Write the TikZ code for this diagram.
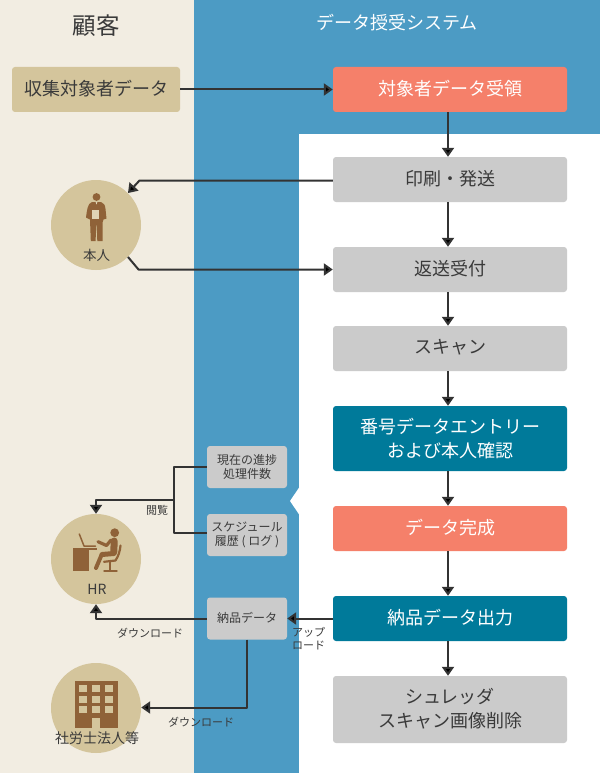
\documentclass[tikz,border=0pt]{standalone}
\usepackage{fontspec}
\setmainfont{Noto Sans CJK JP}
\usetikzlibrary{arrows.meta,calc}
\definecolor{beige}{HTML}{F2EDE2}
\definecolor{panel}{HTML}{4C9BC4}
\definecolor{tan}{HTML}{D4C59C}
\definecolor{brownc}{HTML}{8F6238}
\definecolor{salmon}{HTML}{F5806A}
\definecolor{tealc}{HTML}{007A9A}
\definecolor{grayc}{HTML}{CBCBCB}
\definecolor{ink}{HTML}{3A3A3A}
\definecolor{wire}{HTML}{333333}
\newcommand{\fs}[1]{\fontsize{#1}{#1}\selectfont}
\newcommand{\up}[1]{\raisebox{1pt}[\height][\depth]{#1}}
\tikzset{
  x=1pt,y=-1pt,
  box/.style={rounded corners=3pt,inner sep=0pt,align=center,text=ink,font=\fontsize{18}{24}\selectfont},
  big/.style={box,minimum width=234pt},
  graybox/.style={big,fill=grayc},
  salmonbox/.style={big,fill=salmon,text=white},
  tealbox/.style={big,fill=tealc,text=white},
  small/.style={box,fill=grayc,minimum width=80pt,minimum height=42pt,font=\fontsize{12}{14}\selectfont},
  circ/.style={circle,fill=tan,minimum size=90pt,inner sep=0pt},
  lab/.style={inner sep=0pt,text=ink,align=center,font=\fontsize{11}{13.3}\selectfont},
  wirec/.style={draw=wire,line width=2pt,line join=round},
  arr/.style={wirec,-{Triangle[width=12pt,length=9pt,fill=black]}},
  iconl/.style={draw=brownc,line cap=round,line join=round},
}
\begin{document}
\begin{tikzpicture}
\useasboundingbox (0,0) rectangle (600,773);
% backgrounds
\fill[beige] (0,0) rectangle (194,773);
\fill[panel] (194,0) rectangle (600,134);
\fill[panel] (194,134) rectangle (299,773);
\fill[white] (299,134) rectangle (600,773);
\fill[white] (299.5,487) -- (290,501) -- (299.5,515) -- cycle;
% headers
\node[inner sep=0pt,text=ink,font=\fs{23.5}] (hcust) at (96,26) {顧客};
\node[inner sep=0pt,text=white,font=\fs{18}] (hsys) at (397,23) {データ授受システム};
% boxes
\node[box,fill=tan,minimum width=168pt,minimum height=45pt] (src) at (96,89.5) {\up{収集対象者データ}};
\node[salmonbox,minimum height=45pt] (recv) at (450,89.5) {\up{対象者データ受領}};
\node[graybox,minimum height=45pt] (print) at (450,179.5) {\up{印刷・発送}};
\node[graybox,minimum height=45pt] (ret) at (450,269.5) {\up{返送受付}};
\node[graybox,minimum height=45pt] (scan) at (450,348.5) {\up{スキャン}};
\node[tealbox,minimum height=65pt] (entry) at (450,438.5) {番号データエントリー\\および本人確認};
\node[salmonbox,minimum height=45pt] (done) at (450,528.5) {\up{データ完成}};
\node[tealbox,minimum height=45pt] (out) at (450,618.5) {\up{納品データ出力}};
\node[graybox,minimum height=67pt] (shred) at (450,709.5) {\up{シュレッダ}\\\up{スキャン画像削除}};
\node[small] (prog) at (247,467) {現在の進捗\\処理件数};
\node[small] (sched) at (247,535) {スケジュール\\履歴 ( ログ )};
\node[small] (deliv) at (247,618.5) {\up{納品データ}};
% circles
\node[circ] (self) at (96,225) {};
\node[circ] (hr) at (96,559) {};
\node[circ] (firm) at (96,708) {};
% person icon
\fill[brownc] (96.5,197) circle (3.9);
\fill[brownc] (92,202) -- (101,202) .. controls (104,203) and (105,205) .. (105.5,209)
  -- (106.5,218.5) -- (103.5,219.5) -- (102.7,222) -- (102.5,241) -- (97.3,241) -- (96.7,225) -- (96.2,225) -- (95.6,241) -- (90.8,241) -- (90,219.5) -- (86,217.5)
  .. controls (87,210) and (87.5,203.5) .. (92,202) -- cycle;
\fill[tan!75!white] (92,209.5) rectangle (99.3,219);
\fill[tan!75!white] (95.6,202) -- (97.4,202) -- (96.5,204.5) -- cycle;
\node[inner sep=0pt,text=ink,font=\fs{13.5}] (selft) at (96.5,255) {本人};
% HR icon
\fill[brownc] (72.7,547.5) rectangle (88.7,571.3);
\fill[brownc] (72.7,547.5) rectangle (96.7,550);
\draw[iconl,line width=1.5pt] (79.3,534) -- (84,546) -- (95.5,546);
\fill[brownc] (114.7,532.7) circle (4.4);
\draw[iconl,line width=3.2pt] (98,541.7) -- (106.5,545.5) -- (111,540);
\draw[iconl,line width=7pt] (114.2,541) -- (113.8,552);
\draw[iconl,line width=5pt] (114,553.5) -- (102,554.5);
\draw[iconl,line width=4pt] (101.5,555) -- (96,568);
\draw[iconl,line width=2.2pt] (120.5,545.5) .. controls (120,551) and (118.5,556) .. (115.5,560.5) -- (104,561.8);
\draw[iconl,line width=1.5pt] (110,562) -- (110,570.5);
\draw[iconl,line width=1.4pt] (104,571) -- (117,571);
\node[inner sep=0pt,text=ink,font=\fs{14}] (hrt) at (97,589) {HR};
% building icon
\fill[brownc] (74.5,680.5) rectangle (117.7,728);
\foreach \xa in {79,92,105}{\foreach \ya in {685,695.5,705.5}{
  \fill[tan] (\xa,\ya) rectangle ++(8.2,7.2);}}
\fill[tan] (92.3,717.5) rectangle (99.7,728);
\node[inner sep=0pt,text=ink,font=\fs{14}] (firmt) at (97,738.5) {社労士法人等};
% connectors
\coordinate (e1) at (139.5,180.5);
\coordinate (e2) at (138.5,269.5);
\coordinate (j1) at (174,467);
\coordinate (j2) at (174,533);
\coordinate (j3) at (174,500);
\coordinate (j4) at (96,500);
\coordinate (j5) at (96,618.5);
\coordinate (j6) at (247,707.5);
\draw[arr] (src.east) -- (recv.west);
\draw[arr] (recv.south -| 448,0) -- (print.north -| 448,0);
\draw[arr] (print.south -| 448,0) -- (ret.north -| 448,0);
\draw[arr] (ret.south -| 448,0) -- (scan.north -| 448,0);
\draw[arr] (scan.south -| 448,0) -- (entry.north -| 448,0);
\draw[arr] (entry.south -| 448,0) -- (done.north -| 448,0);
\draw[arr] (done.south -| 448,0) -- (out.north -| 448,0);
\draw[arr] (out.south -| 448,0) -- (shred.north -| 448,0);
\draw[arr] (print.west |- e1) -- (e1) -- (self.45);
\draw[arr] (self.-45) -- (e2) -- (ret.west);
\draw[wirec] (prog.west) -- (j1) -- (j2) -- (sched.west |- j2);
\draw[arr] (j3) -- (j4) -- (hr.north);
\draw[arr] (deliv.west) -- (j5) -- (hr.south);
\draw[arr] (deliv.south) -- (j6) -- (firm.east |- j6);
\draw[arr] (out.west) -- (deliv.east);
% labels
\node[lab] (l1) at (157,510) {閲覧};
\node[lab] (l2) at (150,633.5) {ダウンロード};
\node[lab] (l3) at (201,722) {ダウンロード};
\node[lab] (l4) at (308.5,638.5) {アップ\\ロード};
\end{tikzpicture}
\end{document}
